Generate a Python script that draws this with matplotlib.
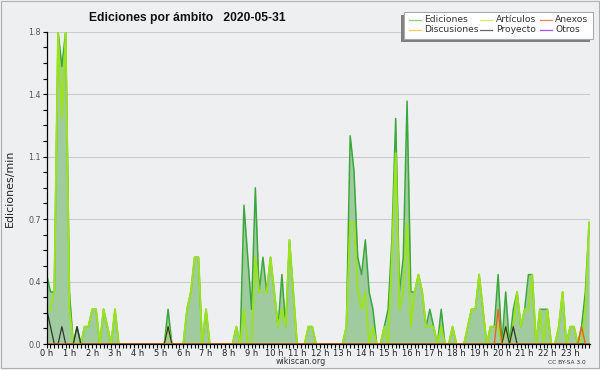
import numpy as np
import matplotlib
matplotlib.use("Agg")
import matplotlib.pyplot as plt
from matplotlib.patches import Rectangle
from matplotlib.lines import Line2D
from matplotlib.ticker import FixedLocator, MultipleLocator

# ---------------- data (edits per minute, 10-minute buckets, 0:00 .. 23:50) -------------
ediciones = [
    0.4, 0.3, 0.3, 1.8, 1.6, 1.8, 0.3, 0, 0.1, 0, 0.1, 0.1, 0.2, 0.2, 0, 0.2, 0.1, 0, 0.2, 0, 0, 0, 0, 0,
    0, 0, 0, 0, 0, 0, 0, 0, 0.2, 0, 0, 0, 0, 0.2, 0.3, 0.5, 0.5, 0, 0.2, 0, 0, 0, 0, 0,
    0, 0, 0.1, 0, 0.8, 0.5, 0.2, 0.9, 0.3, 0.5, 0.3, 0.5, 0.3, 0.1, 0.4, 0.1, 0.6, 0.3, 0, 0, 0, 0.1, 0.1, 0,
    0, 0, 0, 0, 0, 0, 0, 0.1, 1.2, 1.0, 0.5, 0.4, 0.6, 0.3, 0.2, 0, 0, 0.1, 0.2, 0.6, 1.3, 0.3, 0.5, 1.4,
    0.3, 0.3, 0.4, 0.3, 0.1, 0.2, 0.1, 0, 0.2, 0, 0, 0.1, 0, 0, 0, 0.1, 0.2, 0.2, 0.4, 0.2, 0, 0.1, 0.1, 0.4,
    0, 0.3, 0, 0.2, 0.3, 0.1, 0.2, 0.4, 0.4, 0, 0.2, 0.2, 0.2, 0, 0, 0.1, 0.3, 0, 0.1, 0.1, 0, 0.1, 0.3, 0.7,
]
articulos = [
    0.2, 0.2, 0.3, 1.8, 1.3, 1.8, 0.2, 0, 0, 0, 0.1, 0.1, 0.2, 0.2, 0, 0.2, 0.1, 0, 0.2, 0, 0, 0, 0, 0,
    0, 0, 0, 0, 0, 0, 0, 0, 0.1, 0, 0, 0, 0, 0.2, 0.3, 0.5, 0.5, 0, 0.2, 0, 0, 0, 0, 0,
    0, 0, 0.1, 0, 0.2, 0, 0, 0.5, 0.3, 0.3, 0.3, 0.5, 0.3, 0.1, 0.2, 0.1, 0.6, 0.3, 0, 0, 0, 0.1, 0.1, 0,
    0, 0, 0, 0, 0, 0, 0, 0.1, 0.7, 0.7, 0.3, 0.2, 0.3, 0, 0.1, 0, 0, 0.1, 0, 0.5, 1.1, 0.2, 0.3, 0.7,
    0.1, 0.3, 0.4, 0.3, 0.1, 0.1, 0.1, 0, 0.1, 0, 0, 0.1, 0, 0, 0, 0.1, 0.2, 0.2, 0.4, 0.2, 0, 0.1, 0.1, 0.1,
    0, 0.1, 0, 0.1, 0.3, 0.1, 0.2, 0.2, 0.4, 0, 0.2, 0, 0.2, 0, 0, 0.1, 0.3, 0, 0.1, 0.1, 0, 0, 0.2, 0.7,
]
anexos = [
    0, 0, 0, 0, 0, 0, 0, 0, 0, 0, 0, 0, 0, 0, 0, 0, 0, 0, 0, 0, 0, 0, 0, 0,
    0, 0, 0, 0, 0, 0, 0, 0, 0, 0, 0, 0, 0, 0, 0, 0, 0, 0, 0, 0, 0, 0, 0, 0,
    0, 0, 0, 0, 0, 0, 0, 0, 0, 0, 0, 0, 0, 0, 0, 0, 0, 0, 0, 0, 0, 0, 0, 0,
    0, 0, 0, 0, 0, 0, 0, 0, 0, 0, 0, 0, 0, 0, 0, 0, 0, 0, 0, 0, 0, 0, 0, 0,
    0, 0, 0, 0, 0, 0, 0, 0, 0, 0, 0, 0, 0, 0, 0, 0, 0, 0, 0, 0, 0, 0, 0, 0.2,
    0, 0, 0, 0, 0, 0, 0, 0, 0, 0, 0, 0, 0, 0, 0, 0, 0, 0, 0, 0, 0, 0.1, 0, 0,
]
discusiones = [
    0, 0, 0, 0, 0, 0, 0, 0, 0, 0, 0, 0, 0, 0, 0, 0, 0, 0, 0, 0, 0, 0, 0, 0,
    0, 0, 0, 0, 0, 0, 0, 0, 0, 0, 0, 0, 0, 0, 0, 0, 0, 0, 0, 0, 0, 0, 0, 0,
    0, 0, 0, 0, 0, 0, 0, 0, 0, 0, 0, 0, 0, 0, 0, 0, 0, 0, 0, 0, 0, 0, 0, 0,
    0, 0, 0, 0, 0, 0, 0, 0, 0, 0, 0, 0, 0, 0, 0, 0, 0, 0, 0, 0, 0, 0, 0, 0,
    0, 0, 0, 0, 0, 0, 0, 0, 0, 0, 0, 0, 0, 0, 0, 0, 0, 0, 0, 0, 0, 0, 0, 0,
    0, 0, 0, 0, 0, 0, 0, 0, 0, 0, 0, 0, 0, 0, 0, 0, 0, 0, 0, 0, 0, 0, 0, 0,
]
proyecto = [
    0.2, 0.1, 0, 0, 0.1, 0, 0, 0, 0.1, 0, 0, 0, 0, 0, 0, 0, 0, 0, 0, 0, 0, 0, 0, 0,
    0, 0, 0, 0, 0, 0, 0, 0, 0.1, 0, 0, 0, 0, 0, 0, 0, 0, 0, 0, 0, 0, 0, 0, 0,
    0, 0, 0, 0, 0, 0, 0, 0, 0, 0, 0, 0, 0, 0, 0, 0, 0, 0, 0, 0, 0, 0, 0, 0,
    0, 0, 0, 0, 0, 0, 0, 0, 0, 0, 0, 0, 0, 0, 0, 0, 0, 0, 0, 0, 0, 0, 0, 0,
    0, 0, 0, 0, 0, 0, 0, 0, 0, 0, 0, 0, 0, 0, 0, 0, 0, 0, 0, 0, 0, 0, 0, 0,
    0, 0.1, 0, 0.1, 0, 0, 0, 0, 0, 0, 0, 0, 0, 0, 0, 0, 0, 0, 0, 0, 0, 0, 0, 0,
]
otros = [
    0, 0, 0, 0, 0, 0, 0, 0, 0, 0, 0, 0, 0, 0, 0, 0, 0, 0, 0, 0, 0, 0, 0, 0,
    0, 0, 0, 0, 0, 0, 0, 0, 0, 0, 0, 0, 0, 0, 0, 0, 0, 0, 0, 0, 0, 0, 0, 0,
    0, 0, 0, 0, 0, 0, 0, 0, 0, 0, 0, 0, 0, 0, 0, 0, 0, 0, 0, 0, 0, 0, 0, 0,
    0, 0, 0, 0, 0, 0, 0, 0, 0, 0, 0, 0, 0, 0, 0, 0, 0, 0, 0, 0, 0, 0, 0, 0,
    0, 0, 0, 0, 0, 0, 0, 0, 0, 0, 0, 0, 0, 0, 0, 0, 0, 0, 0, 0, 0, 0, 0, 0,
    0, 0, 0, 0, 0, 0, 0, 0, 0, 0, 0, 0, 0, 0, 0, 0, 0, 0, 0, 0, 0, 0, 0, 0,
]
hours = list(range(24))
hour_labels = [f"{h} h" for h in hours]
y_ticks = [0.0, 0.36, 0.72, 1.08, 1.44, 1.8]
title = "Ediciones por ámbito   2020-05-31"
series_names = ["Ediciones", "Artículos", "Anexos", "Discusiones", "Proyecto", "Otros"]

# ---------------- layout helpers ----------------
W, H = 600, 370
def fx(px):
    return px / W
def fy(py):
    return 1 - py / H

BG = "#eeeff1"
fig = plt.figure(figsize=(6, 3.7), dpi=100, facecolor=BG)

x0, x1, ytop, ybot = 46.7, 590, 31.7, 344
ax = fig.add_axes([fx(x0), fy(ybot), fx(x1) - fx(x0), fy(ytop) - fy(ybot)])
ax.set_facecolor(BG)

t = np.arange(len(ediciones)) / 6.0

ax.fill_between(t, 0, ediciones, color="#9fcb9f", lw=0, zorder=1)
ax.plot(t, discusiones, color="#f0c030", lw=1.0, zorder=2)
ax.plot(t, otros, color="#9040e0", lw=1.0, zorder=2)
ax.plot(t, ediciones, color="#3aa83a", lw=1.1, zorder=3)
ax.plot(t, articulos, color="#9be31c", lw=1.4, zorder=4)
ax.plot(t, proyecto, color="#333333", lw=0.9, zorder=5)
ax.plot(t, anexos, color="#e8641e", lw=1.0, zorder=5)

ax.set_xlim(0, (x1 - x0) / (143 * 0 + 22.76))
ax.set_ylim(0, 1.8)

for s in ("top", "right"):
    ax.spines[s].set_visible(False)
for s in ("left", "bottom"):
    ax.spines[s].set_color("black")
    ax.spines[s].set_linewidth(0.9)
    ax.spines[s].set_zorder(6)

ax.yaxis.set_major_locator(FixedLocator(y_ticks))
ax.set_yticklabels([f"{v:.1f}" for v in y_ticks])
ax.yaxis.set_minor_locator(MultipleLocator(0.09))
ax.xaxis.set_major_locator(FixedLocator(hours))
ax.set_xticklabels(hour_labels)
ax.xaxis.set_minor_locator(MultipleLocator(1 / 6))

ax.tick_params(axis="both", which="both", direction="out", length=3, width=0.8, color="black")
ax.tick_params(axis="y", labelsize=5.8, labelcolor="#555555", pad=1)
ax.tick_params(axis="x", labelsize=6.0, labelcolor="#222222", pad=0.5)

ax.yaxis.grid(True, which="major", color="#cccccc", lw=0.8)
ax.set_axisbelow(True)

# ---------------- texts ----------------
fig.text(fx(187.5), fy(20.5), title, ha="center", va="baseline",
         fontsize=8.7, fontweight="bold", family="Liberation Sans", color="#111111")
fig.text(fx(10), fy(188), "Ediciones/min", rotation=90, ha="center", va="center",
         fontsize=7.9, color="#222222")
fig.text(fx(300.5), fy(361), "wikiscan.org", ha="center", va="center", fontsize=5.8, color="#333333")
fig.text(fx(586), fy(362), "CC BY-SA 3.0", ha="right", va="center", fontsize=4.2, color="#333333")

# ---------------- legend (manual, with left/bottom shadow) ----------------
fig.patches.append(Rectangle((fx(401), fy(41.5)), fx(590) - fx(401), fy(15) - fy(41.5),
                             transform=fig.transFigure, facecolor="#7f7f7f", edgecolor="none", zorder=10))
fig.patches.append(Rectangle((fx(404), fy(38.5)), fx(593) - fx(404), fy(12) - fy(38.5),
                             transform=fig.transFigure, facecolor="white", edgecolor="#aaaaaa",
                             lw=0.8, zorder=11))
leg_colors = ["#7fd07f", "#d6ee5a", "#f08050", "#f4cf50", "#666666", "#a050f0"]
col_hx = [(408.5, 420.5), (480, 492), (539.5, 551.5)]
col_tx = [424, 496, 555]
row_y = [19.5, 29.5]
for k, (name, c) in enumerate(zip(series_names, leg_colors)):
    r, cidx = divmod(k, 3)
    ha0, ha1 = col_hx[cidx]
    fig.lines.append(Line2D([fx(ha0), fx(ha1)], [fy(row_y[r]), fy(row_y[r])],
                            transform=fig.transFigure, color=c, lw=0.9, zorder=12))
    fig.text(fx(col_tx[cidx]), fy(row_y[r]), name, ha="left", va="center",
             fontsize=6.6, color="#333333", zorder=12)

# ---------------- outer border ----------------
fig.patches.append(Rectangle((fx(0.5), fy(367.5)), fx(598.5) - fx(0.5), fy(0.5) - fy(367.5),
                             transform=fig.transFigure, facecolor="none", edgecolor="#b0b0b0",
                             lw=0.8, zorder=20))

fig.savefig("out.png", dpi=100, facecolor=BG)
